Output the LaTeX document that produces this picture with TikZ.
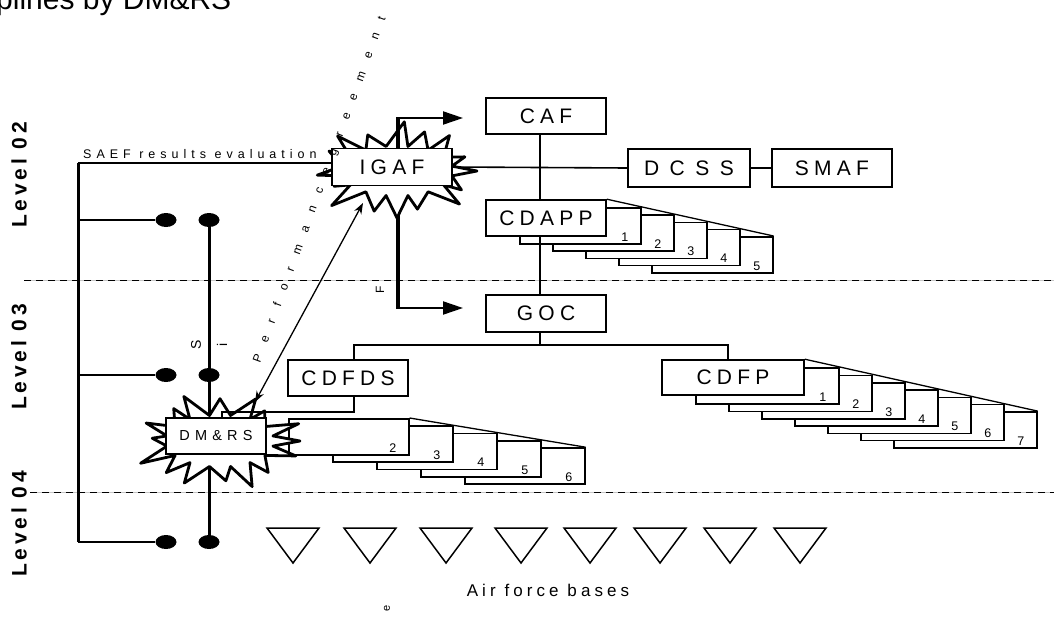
\documentclass[tikz,border=0pt]{standalone}
\usepackage{fontspec}
\setmainfont{Liberation Sans}
\usetikzlibrary{shapes.geometric,arrows.meta}
\newcommand{\trk}[1]{\addfontfeature{LetterSpace=#1}}
\newcommand{\fs}[1]{\fontsize{#1}{#1}\selectfont}
% explosion outline: cx, cy, outer rx, outer ry, inner rx, inner ry, list k/jitter/angle
\newcommand{\blast}[7]{%
  \draw[burst] ({#1+#3},#2)
    \foreach \k/\j/\a in {#7} {
      -- ({#1+#5*cos(22.5*\k+11.25)},{#2+#6*sin(22.5*\k+11.25)})
      -- ({#1+#3*\j*cos(22.5*(\k+1)+\a)},{#2+#4*\j*sin(22.5*(\k+1)+\a)})
    } -- cycle;}
\begin{document}
\begin{tikzpicture}[x=1pt,y=-1pt,
  box/.style={draw, line width=1.6pt, fill=white, inner sep=0pt, font=\fs{21}\trk{25}},
  stk/.style={draw, line width=1.6pt, fill=white, inner sep=0pt, anchor=north west},
  num/.style={font=\fs{12.5}, inner sep=0pt, anchor=base east},
  lvl/.style={rotate=90, font=\fs{21}\bfseries\trk{18}, inner sep=0pt},
  blob/.style={ellipse, fill=black, minimum width=21pt, minimum height=14pt, inner sep=0pt},
  burst/.style={draw, fill=white, line width=2.8pt, line join=round},
  stray/.style={rotate=90, inner sep=0pt, font=\fs{14}},
  conn/.style={line width=1.6pt},
  dashgrey/.style={gray!45, line width=1pt},
  dashblack/.style={dash pattern=on 7pt off 5pt, line width=1pt}
]
\useasboundingbox (0,0) rectangle (1054,616);
\clip (0,0) rectangle (1054,616);
\fill[white] (0,0) rectangle (1054,616);

% title (cut at top)
\node[anchor=base west, inner sep=0pt, font=\fs{30}] (title) at (-4,9) {plines by DM\&RS};

% dashed level separators
\draw[dashgrey] (24,280) -- (1054,280);
\draw[dashblack] (24,280) -- (1054,280);
\draw[dashgrey] (30,492) -- (1054,492);
\draw[dashblack] (30,492) -- (1054,492);

% level labels
\node[lvl] (lv2) at (19,175) {Level 02};
\node[lvl] (lv3) at (19,357) {Level 03};
\node[lvl] (lv4) at (19,524) {Level 04};

% left structure
\coordinate (ltop) at (78,163);
\coordinate (lbot) at (78,542);
\node[blob] (d1a) at (166,220) {};
\node[blob] (d1b) at (209,220) {};
\node[blob] (d2a) at (166,375) {};
\node[blob] (d2b) at (209,375) {};
\node[blob] (d3a) at (166,542) {};
\node[blob] (d3b) at (209,542) {};
\draw[line width=3pt] (ltop) -- (lbot);
\draw[line width=2.5pt] (ltop |- d1a) -- (d1a);
\draw[line width=1.3pt] (ltop |- d2a) -- (d2a);
\draw[line width=2pt] (lbot) -- (d3a);
\draw[line width=3pt] (d1b) -- (d3b);

\node[anchor=base west, font=\fs{12.5}\trk{40}, inner sep=0pt] (saef) at (83,158) {SAEF results evaluation};

% CDAPP stack
\foreach \i in {5,4,3,2,1} {
  \node[stk, minimum width=121pt, minimum height=36pt] (cdapp\i) at ({486+33*\i},{200+7.2*\i}) {};
  \node[num] (cdappn\i) at ([xshift=-13pt,yshift=3.5pt]cdapp\i.south east) {\i};
}
\node[box, minimum width=120pt, minimum height=36pt] (cdapp) at (546,218) {CDAPP};
\draw[line width=1.3pt] (cdapp.north east) -- (cdapp5.north east);

% CDFDS stack
\foreach \i in {6,5,4,3,2} {
  \node[stk, minimum width=120pt, minimum height=36pt] (cdfds\i) at ({288+44*(\i-2)},{418+7.3*(\i-2)}) {};
  \node[num] (cdfdsn\i) at ([xshift=-13pt,yshift=3.5pt]cdfds\i.south east) {\i};
}
\draw[line width=1.3pt] (cdfds2.north east) -- (cdfds6.north east);

% CDFP stack
\foreach \i in {7,6,...,1} {
  \node[stk, minimum width=143pt, minimum height=36pt] (cdfp\i) at ({662+33*\i},{360+7.3*\i}) {};
  \node[num] (cdfpn\i) at ([xshift=-13pt,yshift=3.5pt]cdfp\i.south east) {\i};
}
\node[box, minimum width=142pt, minimum height=35pt] (cdfp) at (733,377.5) {CDFP};
\draw[line width=1.3pt] (cdfp.north east) -- (cdfp7.north east);

% main boxes
\node[box, minimum width=120pt, minimum height=36pt] (caf) at (546,116) {CAF};
\node[box, minimum width=122pt, minimum height=38pt, font=\fs{21}\trk{50}] (dcss) at (689,168) {DCSS};
\node[box, minimum width=120pt, minimum height=38pt] (smaf) at (832,168) {SMAF};
\node[box, minimum width=120pt, minimum height=37pt] (goc) at (546,313.5) {GOC};
\node[box, minimum width=120pt, minimum height=36pt] (cdfds) at (348,378) {CDFDS};

% connectors
\coordinate (sp) at (540,0);
\coordinate (hb) at (0,345);
\coordinate (cx1) at (354,0);
\coordinate (cx2) at (728,0);
\coordinate (cx3) at (222,0);
\coordinate (hl) at (0,412);
\draw[conn] (caf.south -| sp) -- (cdapp.north -| sp);
\draw[conn] (cdapp.south -| sp) -- (goc.north -| sp);
\draw[conn] (goc.south -| sp) -- (sp |- hb);
\draw[conn] (cx1 |- cdfds.north) -- (cx1 |- hb) -- (cx2 |- hb) -- (cx2 |- cdfp.north);
\draw[conn] (dcss.east) -- (smaf.west);

% lower IGAF arrow (behind star)
\coordinate (a2e) at (463,308);
\draw[line width=2pt, -{Triangle[length=20pt,width=13pt]}] (398,308) -- (a2e);
\draw[line width=4pt] (398,186) -- (398,309);
% top line to IGAF
\draw[line width=2pt] (ltop) -- (332,163);

% stars
\blast{397}{171}{80}{47}{56}{25}{0/0.9/4,1/1.05/-3,2/0.85/5,3/1.0/0,4/0.9/-4,5/1.1/3,6/0.85/0,7/1.0/-5,8/0.95/4,9/1.05/0,10/0.85/-3,11/1.05/5,12/0.9/0,13/1.0/-4,14/0.9/3,15/1.0/0}
\node[box, minimum width=120pt, minimum height=37pt] (igaf) at (392,167) {IGAF};
\blast{220}{441}{80}{47}{54}{26}{0/1.0/-4,1/0.9/3,2/1.05/0,3/0.85/-5,4/1.0/4,5/0.95/0,6/1.1/-3,7/0.85/4,8/1.0/0,9/0.9/5,10/1.05/-3,11/0.9/0,12/1.0/4,13/0.85/-4,14/1.05/2,15/1.0/0}
\node[box, font=\fs{14.5}\trk{36}, minimum width=100pt, minimum height=36pt] (dmrs) at (216,436) {DM\&RS};

\draw[conn] (igaf.east) -- (dcss.west);
\draw[conn] (cx1 |- cdfds.south) -- (cx1 |- hl) -- (cx3 |- hl) -- (cx3 |- dmrs.north);

% upper IGAF arrow
\coordinate (a1e) at (463,118);
\draw[line width=4pt] (398,148) -- (398,117);
\draw[line width=2pt, -{Triangle[length=20pt,width=13pt]}] (397,118) -- (a1e);

% performance agreement double arrow
\coordinate (pa1) at (363,203);
\coordinate (pa2) at (255,402);
\draw[line width=1.3pt, {Stealth[length=11pt,width=8pt]}-{Stealth[length=11pt,width=8pt]}] (pa1) -- (pa2);
\node[rotate=70, font=\fs{12}\trk{115}, inner sep=0pt] (perf) at (320,190) {Performancegreement};

% stray letters
\node[stray] (s1) at (196,345) {S};
\node[stray] (s2) at (222,345) {i};
\node[stray, font=\fs{12}] (s3) at (380,290) {F};
\node[stray, font=\fs{11}] (s4) at (387,608) {e};

% air force bases
\foreach \c in {293,370,446,521,590,660,730,800} {
  \draw[line width=1.5pt, line join=miter] ({\c-26},528) -- ({\c+26},528) -- (\c,563) -- cycle;
}
\node[anchor=base, font=\fs{17}\trk{24}, inner sep=0pt] (afb) at (548,596) {Air force bases};
\end{tikzpicture}
\end{document}
